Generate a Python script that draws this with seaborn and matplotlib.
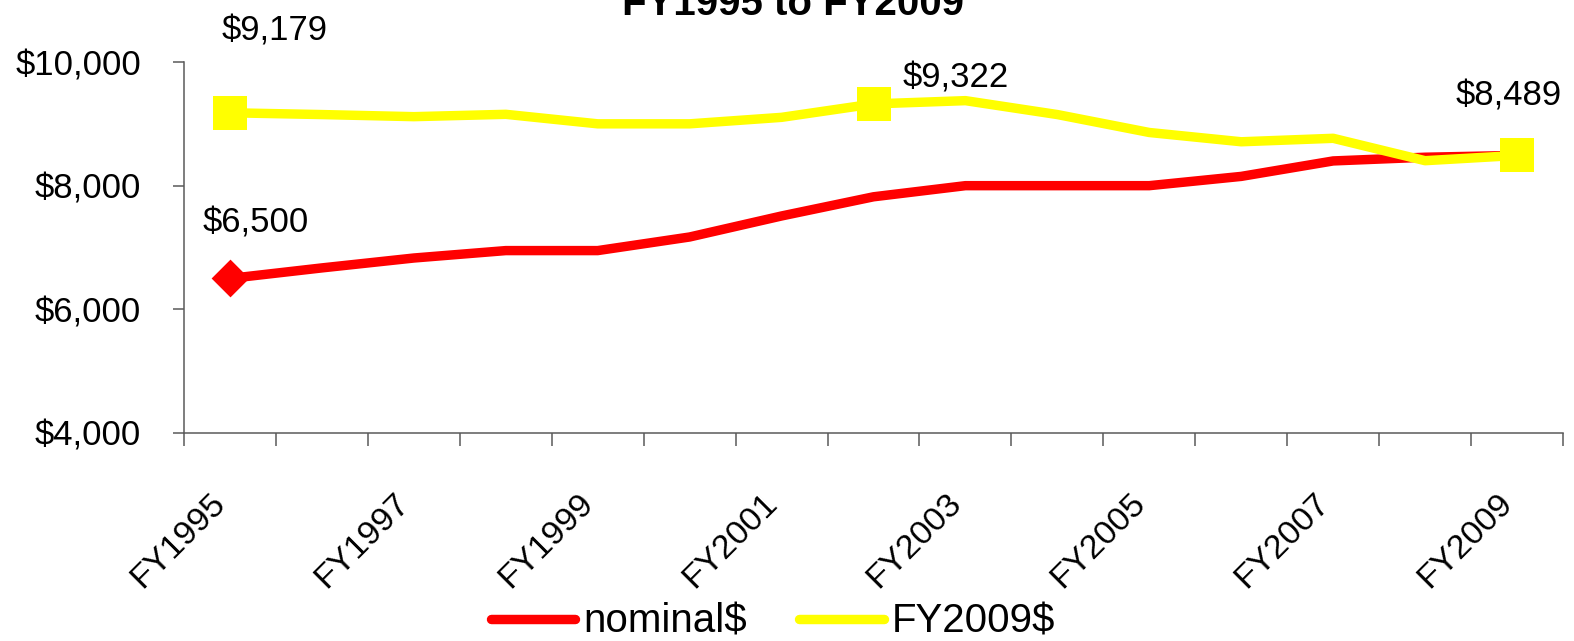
import matplotlib
matplotlib.use("Agg")
import matplotlib.pyplot as plt
import matplotlib.ticker as mticker
import matplotlib.transforms as mtransforms
import seaborn as sns
import pandas as pd

# Fiscal years on the x axis
years = ["FY1995", "FY1996", "FY1997", "FY1998", "FY1999", "FY2000", "FY2001",
         "FY2002", "FY2003", "FY2004", "FY2005", "FY2006", "FY2007", "FY2008",
         "FY2009"]

# Values in current (nominal) dollars and in constant FY2009 dollars
nominal = [6500, 6670, 6830, 6950, 6950, 7170, 7510, 7820, 8000, 8000, 8000,
           8150, 8400, 8460, 8489]
fy2009 = [9179, 9150, 9116, 9154, 9000, 9000, 9105, 9322, 9375, 9150, 8860,
          8710, 8766, 8404, 8489]

# Highlighted, labelled points (year index)
nominal_marked = [0]
fy2009_marked = [0, 7, 14]

y_ticks = [4000, 6000, 8000, 10000]
title_text = "FY1995 to FY2009"

sns.set_style("white")
plt.rcParams["font.family"] = ["Liberation Sans", "DejaVu Sans"]
plt.rcParams["text.color"] = "black"

pos = list(range(len(years)))
df = pd.DataFrame({"pos": pos, "year": years, "nominal$": nominal, "FY2009$": fy2009})

fig = plt.figure(figsize=(15.74, 6.41), dpi=100)
ax = fig.add_axes([184 / 1574, 1 - 433 / 641, (1563 - 184) / 1574, (433 - 62) / 641])

RED = "#FF0000"
YELLOW = "#FFFF00"
LW = 6.8

sns.lineplot(data=df, x="pos", y="nominal$", ax=ax, color=RED, linewidth=LW,
             label="nominal$", legend=False, solid_capstyle="butt")
sns.lineplot(data=df, x="pos", y="FY2009$", ax=ax, color=YELLOW, linewidth=LW,
             label="FY2009$", legend=False, solid_capstyle="butt")

nm = df.iloc[nominal_marked]
fm = df.iloc[fy2009_marked]
sns.scatterplot(data=nm, x="pos", y="nominal$", ax=ax, marker="D", s=370,
                color=RED, edgecolor=RED, linewidth=0, zorder=5, legend=False)
sns.scatterplot(data=fm, x="pos", y="FY2009$", ax=ax, marker="s", s=600,
                color=YELLOW, edgecolor=YELLOW, linewidth=0, zorder=6, legend=False)

# Value labels next to the highlighted points
label_fs = 25
offsets_nominal = {0: (-20, 33)}
offsets_fy2009 = {0: (-6, 52), 7: (21, 11.5), 14: (-44.6, 36)}
for i in nominal_marked:
    ax.annotate(f"${nominal[i]:,}", xy=(pos[i], nominal[i]), xytext=offsets_nominal[i],
                textcoords="offset points", ha="left", va="baseline",
                fontsize=label_fs, color="black", annotation_clip=False)
for i in fy2009_marked:
    ax.annotate(f"${fy2009[i]:,}", xy=(pos[i], fy2009[i]), xytext=offsets_fy2009[i],
                textcoords="offset points", ha="left", va="baseline",
                fontsize=label_fs, color="black", annotation_clip=False)

# Axes limits, ticks and spines
ax.set_xlim(-0.5, len(years) - 0.5)
ax.set_ylim(4000, 10000)
ax.set_yticks(y_ticks)
ax.yaxis.set_major_formatter(mticker.FuncFormatter(lambda v, p: f"${int(v):,}"))
ax.set_xticks(pos[::2])
ax.set_xticklabels(years[::2], rotation=45, ha="right", va="center",
                   rotation_mode="anchor")
ax.xaxis.set_minor_locator(mticker.FixedLocator([p - 0.5 for p in range(len(years) + 1)]))
ax.set_xlabel("")
ax.set_ylabel("")

axis_color = "#5a5a5a"
for side in ["top", "right"]:
    ax.spines[side].set_visible(False)
for side in ["left", "bottom"]:
    ax.spines[side].set_color(axis_color)
    ax.spines[side].set_linewidth(1.1)

ax.tick_params(axis="x", which="major", length=0, pad=47, labelsize=24.5,
               labelcolor="black")
ax.tick_params(axis="x", which="minor", length=9.5, width=1.1, color=axis_color,
               direction="out", bottom=True)
ax.tick_params(axis="y", which="major", length=8, width=1.1, color=axis_color,
               direction="out", left=True, pad=23, labelsize=25, labelcolor="black")

# nudge the slanted year labels a little to the left
shift = mtransforms.ScaledTranslation(-0.09, 0, fig.dpi_scale_trans)
for lab in ax.get_xticklabels():
    lab.set_transform(lab.get_transform() + shift)

# Title (second line of a multi-line heading)
fig.text(0.504, 1 - 15 / 641, title_text, ha="center", va="baseline",
         fontsize=29, fontweight="bold", color="black")

handles, labels = ax.get_legend_handles_labels()
leg = fig.legend(handles, labels, loc="center", bbox_to_anchor=(0.491, 0.03),
                 ncol=2, frameon=False, fontsize=29, handlelength=2.1,
                 handletextpad=0.2, columnspacing=1.3)
for t in leg.get_texts():
    t.set_color("black")
for line in leg.get_lines():
    line.set_linewidth(LW)
    line.set_solid_capstyle("round")

fig.savefig("out.png", dpi=100)
